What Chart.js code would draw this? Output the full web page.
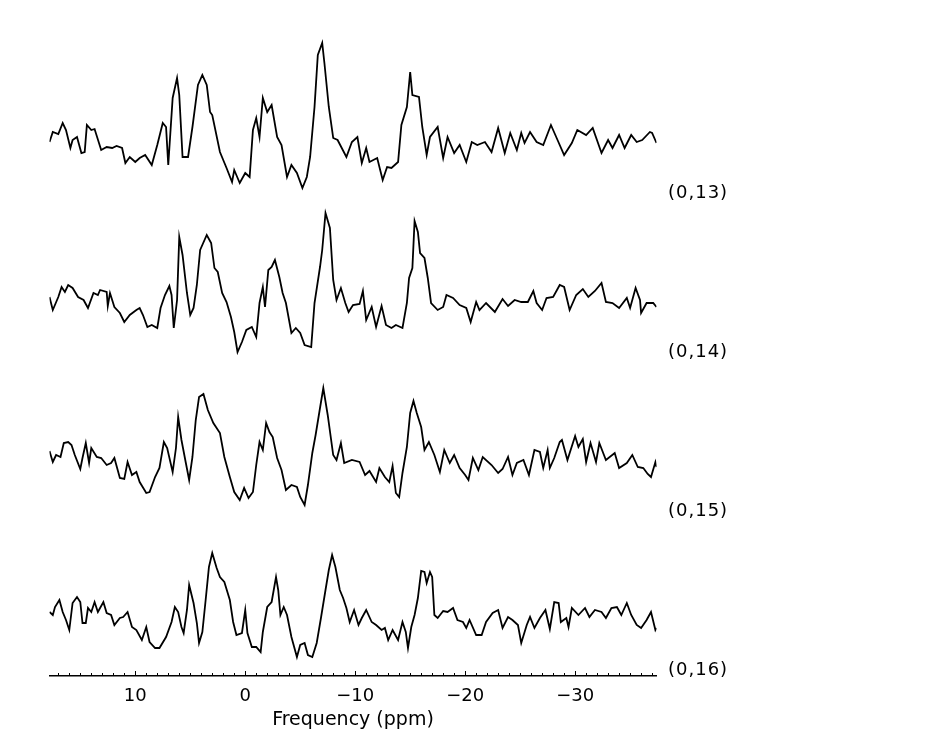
<!DOCTYPE html>
<html>
<head>
<meta charset="utf-8">
<script src="https://cdn.jsdelivr.net/npm/chart.js@4/dist/chart.umd.min.js"></script>
<style>
  html, body { margin: 0; padding: 0; background: #fff; }
  canvas { display: block; }
</style>
</head>
<body>
<canvas id="chart" width="940" height="752"></canvas>
<script>
// spectra: ppm positions and intensities (arbitrary units)
const ppm13 = [17.8,17.5,17.0,16.6,16.3,15.9,15.7,15.3,14.9,14.6,14.4,14.0,13.7,13.1,12.6,12.1,11.7,11.2,10.9,10.5,10.0,9.6,9.1,8.5,8.0,7.5,7.2,7.0,6.6,6.2,6.0,5.7,5.2,4.8,4.3,3.9,3.5,3.2,3.0,2.3,1.7,1.2,1.0,0.5,0.0,-0.4,-0.7,-1.0,-1.3,-1.6,-2.0,-2.4,-2.9,-3.3,-3.8,-4.2,-4.7,-5.2,-5.6,-5.9,-6.3,-6.6,-7.0,-7.2,-7.6,-8.0,-8.4,-9.2,-9.7,-10.2,-10.6,-11.0,-11.3,-12.0,-12.5,-12.9,-13.3,-13.9,-14.2,-14.7,-15.0,-15.2,-15.8,-16.1,-16.5,-16.8,-17.5,-18.0,-18.4,-19.0,-19.5,-20.1,-20.6,-21.1,-21.8,-22.4,-23.0,-23.6,-24.1,-24.7,-25.1,-25.4,-25.9,-26.5,-27.1,-27.8,-28.4,-29.0,-29.7,-30.2,-31.0,-31.6,-32.4,-33.0,-33.4,-34.0,-34.5,-35.1,-35.6,-36.1,-36.8,-37.0,-37.4];
const int13 = [50,60,58,69,62,44,52,55,39,40,67,62,63,42,45,44,46,44,29,35,30,34,37,27,47,69,65,27,94,114,97,35,35,65,107,117,107,80,77,40,24,10,22,9,19,15,62,74,55,94,80,87,55,47,15,27,19,4,15,35,85,137,149,129,85,54,52,35,50,55,29,44,30,34,12,25,24,30,67,85,120,97,95,65,37,55,65,34,55,39,47,30,50,47,50,40,64,39,59,42,59,49,60,50,47,67,52,37,49,62,57,64,39,52,44,57,44,57,50,52,60,59,49];

const ppm14 = [17.8,17.5,17.0,16.7,16.4,16.1,15.7,15.2,14.7,14.3,13.8,13.4,13.2,12.6,12.5,12.3,11.9,11.4,11.0,10.5,9.9,9.6,9.3,8.9,8.5,8.0,7.7,7.3,6.9,6.7,6.5,6.2,6.0,5.7,5.3,5.0,4.7,4.4,4.1,3.5,3.1,2.8,2.5,2.1,1.7,1.3,1.0,0.7,0.3,-0.1,-0.6,-1.0,-1.3,-1.6,-1.8,-2.1,-2.4,-2.7,-3.1,-3.4,-3.7,-4.2,-4.6,-5.0,-5.4,-6.0,-6.3,-6.8,-7.0,-7.3,-7.7,-8.0,-8.3,-8.7,-9.1,-9.4,-9.8,-10.4,-10.7,-11.0,-11.5,-11.9,-12.4,-12.8,-13.3,-13.7,-14.3,-14.7,-14.9,-15.2,-15.4,-15.7,-15.9,-16.3,-16.6,-16.9,-17.5,-18.0,-18.3,-18.9,-19.5,-20.1,-20.5,-21.0,-21.3,-21.9,-22.7,-23.4,-23.9,-24.5,-25.1,-25.7,-26.2,-26.5,-27.0,-27.4,-28.0,-28.6,-29.0,-29.5,-30.1,-30.7,-31.2,-31.8,-32.4,-32.8,-33.4,-34.0,-34.7,-35.0,-35.5,-35.9,-36.0,-36.5,-37.1,-37.4];
const int14 = [54,41,54,64,59,66,63,54,51,43,58,56,61,59,45,58,44,38,29,36,41,43,36,24,26,23,43,56,65,56,23,51,114,96,58,36,43,66,101,116,108,83,79,58,49,34,19,-1,9,21,24,14,48,64,44,81,84,91,74,58,48,18,23,18,6,4,48,84,101,138,123,71,51,63,48,39,46,47,60,31,44,24,45,26,23,26,23,48,73,83,130,119,98,93,73,48,41,44,56,53,46,43,29,49,41,48,39,52,45,51,49,49,60,48,41,53,54,66,64,41,56,62,54,60,68,49,48,43,53,43,63,51,38,48,48,44];

const ppm15 = [17.8,17.5,17.2,16.8,16.5,16.1,15.8,15.5,15.0,14.8,14.5,14.2,14.0,13.5,13.1,12.6,12.2,11.9,11.4,11.0,10.7,10.3,9.9,9.6,9.0,8.7,8.2,7.8,7.4,7.1,6.6,6.3,6.1,5.8,5.4,5.1,4.8,4.5,4.2,3.8,3.4,2.9,2.3,1.9,1.4,1.0,0.5,0.1,-0.3,-0.7,-1.0,-1.3,-1.6,-1.9,-2.2,-2.5,-2.9,-3.3,-3.7,-4.2,-4.7,-5.0,-5.4,-5.7,-6.1,-6.4,-6.8,-7.1,-7.5,-8.0,-8.3,-8.7,-9.0,-9.7,-10.4,-10.9,-11.3,-11.9,-12.2,-12.7,-13.1,-13.4,-13.7,-14.0,-14.3,-14.7,-15.0,-15.3,-15.6,-16.0,-16.3,-16.7,-17.2,-17.7,-18.1,-18.6,-19.0,-19.5,-20.0,-20.3,-20.7,-21.2,-21.6,-22.4,-23.0,-23.4,-23.9,-24.3,-24.7,-25.3,-25.8,-26.3,-26.8,-27.1,-27.5,-27.7,-28.1,-28.6,-28.8,-29.3,-30.0,-30.3,-30.7,-31.0,-31.4,-31.9,-32.2,-32.8,-33.6,-34.0,-34.7,-35.2,-35.7,-36.2,-36.6,-36.9,-37.3,-37.4];
const int15 = [59,48,55,53,67,68,65,55,41,52,67,47,62,53,52,45,47,52,32,31,48,35,38,28,17,18,33,42,68,62,38,62,93,70,47,30,53,90,113,116,100,87,77,53,33,18,10,22,12,18,45,68,60,87,78,73,52,40,20,25,23,13,5,25,57,75,102,122,95,55,50,67,47,50,48,35,39,28,42,33,28,44,17,13,37,63,97,109,97,83,60,68,55,38,60,47,55,42,35,30,52,40,53,45,37,41,53,35,47,50,35,60,58,42,60,42,52,68,70,50,74,63,71,48,67,48,67,50,57,42,47,55,43,42,36,33,48,43];

const ppm16 = [17.8,17.5,17.3,16.9,16.6,16.3,16.0,15.7,15.3,15.0,14.8,14.5,14.3,14.0,13.7,13.4,12.9,12.6,12.2,11.9,11.4,11.1,10.7,10.3,9.9,9.4,9.0,8.7,8.2,7.8,7.2,6.7,6.4,6.1,5.8,5.6,5.3,5.1,4.7,4.4,4.2,3.9,3.6,3.3,3.0,2.6,2.3,1.9,1.4,1.1,0.8,0.3,0.0,-0.2,-0.6,-1.0,-1.4,-1.6,-2.0,-2.4,-2.8,-3.0,-3.2,-3.5,-3.8,-4.2,-4.7,-5.0,-5.4,-5.7,-6.1,-6.5,-6.9,-7.3,-7.6,-7.9,-8.2,-8.6,-8.9,-9.2,-9.5,-9.9,-10.3,-10.6,-11.0,-11.5,-11.9,-12.4,-12.7,-13.0,-13.4,-13.9,-14.3,-14.6,-14.8,-15.1,-15.4,-15.7,-16.0,-16.3,-16.5,-16.8,-17.0,-17.2,-17.5,-18.0,-18.4,-18.9,-19.3,-19.8,-20.1,-20.4,-21.0,-21.5,-21.9,-22.5,-23.0,-23.4,-23.9,-24.3,-24.8,-25.1,-25.6,-25.9,-26.3,-26.8,-27.3,-27.7,-28.1,-28.5,-28.7,-29.2,-29.4,-29.7,-30.3,-30.9,-31.3,-31.8,-32.4,-32.8,-33.3,-33.8,-34.2,-34.7,-35.1,-35.6,-36.0,-36.5,-36.9,-37.3,-37.4];
const int16 = [57,54,62,69,57,49,39,66,72,67,46,46,61,57,67,57,67,56,54,44,51,52,57,42,39,29,42,27,21,21,32,47,62,57,42,36,59,84,66,46,26,37,69,102,116,101,92,87,69,47,34,36,59,36,22,22,17,37,62,67,92,79,54,62,54,32,12,24,26,14,12,26,52,79,99,114,102,79,71,61,47,59,44,51,59,47,44,39,41,29,39,29,47,37,21,42,54,71,98,97,86,97,92,54,51,58,57,61,49,47,41,49,34,34,47,56,59,41,52,49,44,26,44,52,41,51,59,40,67,66,47,51,42,61,54,61,52,59,57,51,61,62,54,66,54,44,41,49,57,39,41];

const traceLabels = ['(0,13)', '(0,14)', '(0,15)', '(0,16)'];
// vertical shift of each trace in the stack
const offsets = [484, 325, 166, 7];

const FONT = '"DejaVu Sans", sans-serif';

const spectra = [
  [ppm13, int13],
  [ppm14, int14],
  [ppm15, int15],
  [ppm16, int16]
];

function toPoints(xs, ys, off) {
  return xs.map((x, i) => ({ x, y: ys[i] + off }));
}

function tickText(v) {
  if (v % 10 !== 0) return '';
  return v < 0 ? '\u2212' + Math.abs(v) : String(v);
}

// small ticks pointing up from the axis line
const tickMarks = {
  id: 'tickMarks',
  afterDraw(chart) {
    const xs = chart.scales.x;
    const ctx = chart.ctx;
    const y0 = chart.chartArea.bottom;
    ctx.save();
    ctx.strokeStyle = '#000';
    ctx.lineWidth = 1;
    xs.ticks.forEach(t => {
      if (!Number.isInteger(t.value)) return;
      const px = Math.round(xs.getPixelForValue(t.value)) + 0.5;
      const len = t.value % 10 === 0 ? 5 : 3;
      ctx.beginPath();
      ctx.moveTo(px, y0);
      ctx.lineTo(px, y0 - len);
      ctx.stroke();
    });
    ctx.restore();
  }
};

// trace names on the right side
const sideLabels = {
  id: 'sideLabels',
  afterDraw(chart) {
    const ys = chart.scales.y;
    const ctx = chart.ctx;
    ctx.save();
    ctx.font = '18px ' + FONT;
    ctx.fillStyle = '#000';
    ctx.textAlign = 'left';
    ctx.textBaseline = 'middle';
    ctx.letterSpacing = '1px';
    traceLabels.forEach((lab, i) => {
      ctx.fillText(lab, chart.chartArea.right + 11.5, ys.getPixelForValue(offsets[i]) + 1);
    });
    ctx.restore();
  }
};

new Chart(document.getElementById('chart'), {
  type: 'line',
  data: {
    datasets: spectra.map((s, i) => ({
      label: traceLabels[i],
      data: toPoints(s[0], s[1], offsets[i]),
      borderColor: '#000',
      borderWidth: 1.8,
      pointRadius: 0,
      tension: 0,
      fill: false
    }))
  },
  options: {
    responsive: false,
    animation: false,
    layout: { padding: { left: 49.5, right: 283.5, top: 36, bottom: 20.4 } },
    plugins: {
      legend: { display: false },
      tooltip: { enabled: false }
    },
    scales: {
      x: {
        type: 'linear',
        reverse: true,
        min: -37.4,
        max: 17.8,
        border: { display: true, color: '#000', width: 1.5 },
        grid: { display: true, drawOnChartArea: false, drawTicks: false },
        ticks: {
          stepSize: 1,
          autoSkip: false,
          maxRotation: 0,
          includeBounds: false,
          padding: 10,
          color: '#000',
          font: { family: FONT, size: 18 },
          callback: v => tickText(v)
        },
        title: {
          display: true,
          text: 'Frequency (ppm)',
          color: '#000',
          font: { family: FONT, size: 19 },
          padding: { top: -8.8, bottom: 0 }
        }
      },
      y: { display: false, min: 0, max: 640 }
    }
  },
  plugins: [tickMarks, sideLabels]
});
</script>
</body>
</html>
